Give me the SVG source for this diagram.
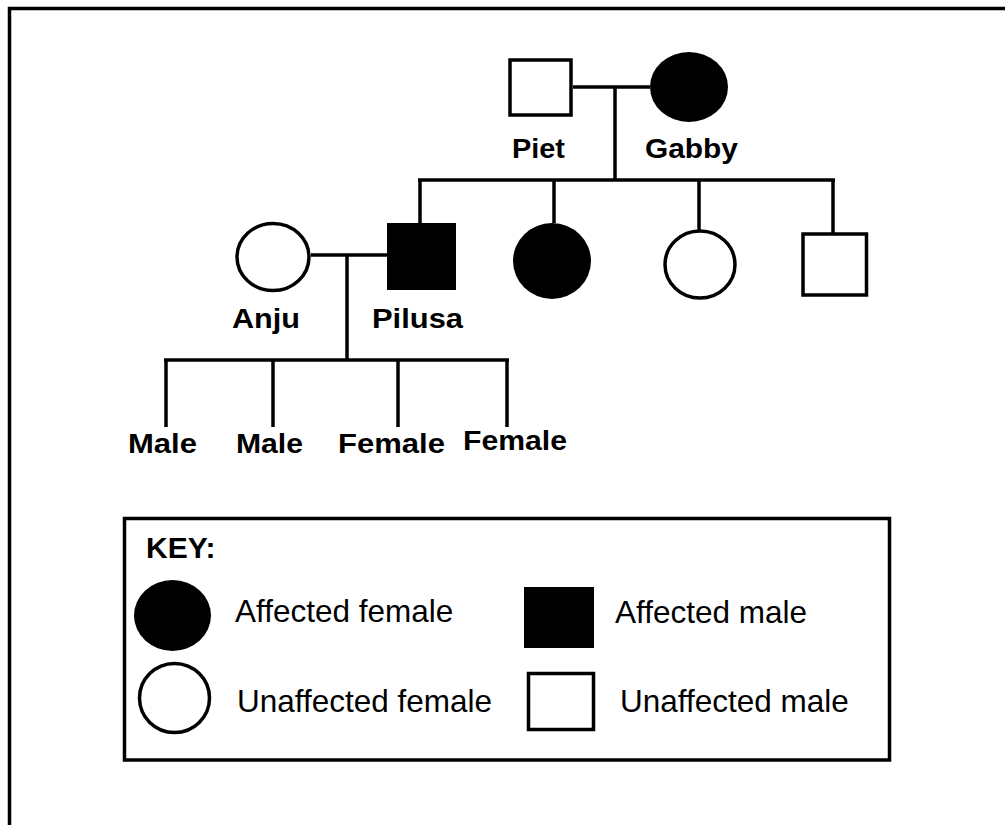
<svg xmlns="http://www.w3.org/2000/svg" width="1005" height="825" viewBox="0 0 1005 825">
<style>
.ln{stroke:#000;stroke-width:3.5;fill:none}
.open{fill:#fff;stroke:#000;stroke-width:3.5}
.fill{fill:#000;stroke:none}
.lbl{font-family:"Liberation Sans",Arial,sans-serif;font-weight:bold;font-size:27px;fill:#000}
.key{font-family:"Liberation Sans",Arial,sans-serif;font-size:31.5px;fill:#000}
.keyt{font-family:"Liberation Sans",Arial,sans-serif;font-weight:bold;font-size:30px;fill:#000}
</style>
<rect width="1005" height="825" fill="#fff"/>
<path class="ln" d="M9.5,825 V8.5 H1005"/>
<g id="connectors">
<path class="ln" d="M573,87 H650"/>
<path class="ln" d="M615,87 V180"/>
<path class="ln" d="M418,180 H835"/>
<path class="ln" d="M420,180 V223"/>
<path class="ln" d="M554,180 V223"/>
<path class="ln" d="M699,180 V230"/>
<path class="ln" d="M833,180 V234"/>
<path class="ln" d="M311,255 H387"/>
<path class="ln" d="M347,255 V360"/>
<path class="ln" d="M164,360 H509"/>
<path class="ln" d="M166,360 V427"/>
<path class="ln" d="M273,360 V427"/>
<path class="ln" d="M398,360 V427"/>
<path class="ln" d="M507,360 V427"/>
</g>
<g id="piet"><rect class="open" x="510" y="60" width="61" height="55"/><text class="lbl" x="512" y="158" textLength="53" lengthAdjust="spacingAndGlyphs">Piet</text></g>
<g id="gabby"><ellipse class="fill" cx="689" cy="87" rx="39" ry="35"/><text class="lbl" x="645" y="158" textLength="93" lengthAdjust="spacingAndGlyphs">Gabby</text></g>
<g id="pilusa"><rect class="fill" x="387" y="223" width="69" height="67"/><text class="lbl" x="372" y="328" textLength="91" lengthAdjust="spacingAndGlyphs">Pilusa</text></g>
<g id="anju"><ellipse class="open" cx="273" cy="257" rx="36" ry="33.5"/><text class="lbl" x="232" y="328" textLength="68" lengthAdjust="spacingAndGlyphs">Anju</text></g>
<g id="daughter1"><ellipse class="fill" cx="552" cy="261" rx="39" ry="38"/></g>
<g id="daughter2"><ellipse class="open" cx="700" cy="264.5" rx="35" ry="33.5"/></g>
<g id="son"><rect class="open" x="803" y="234" width="63.5" height="61"/></g>
<g id="child1"><text class="lbl" x="128" y="453" textLength="69" lengthAdjust="spacingAndGlyphs">Male</text></g>
<g id="child2"><text class="lbl" x="236" y="453" textLength="67" lengthAdjust="spacingAndGlyphs">Male</text></g>
<g id="child3"><text class="lbl" x="338" y="453" textLength="107" lengthAdjust="spacingAndGlyphs">Female</text></g>
<g id="child4"><text class="lbl" x="463" y="450" textLength="104" lengthAdjust="spacingAndGlyphs">Female</text></g>
<g id="key">
<rect class="ln" x="124.5" y="518.5" width="765" height="241.5"/>
<text class="keyt" x="146" y="558">KEY:</text>
<ellipse class="fill" cx="172.5" cy="615.5" rx="38.5" ry="35.5"/>
<text class="key" x="235" y="622">Affected female</text>
<ellipse class="open" cx="174.5" cy="698" rx="35" ry="34.5"/>
<text class="key" x="237" y="712">Unaffected female</text>
<rect class="fill" x="524" y="587" width="70" height="61"/>
<text class="key" x="615" y="623">Affected male</text>
<rect class="open" x="528.5" y="673.5" width="65" height="56"/>
<text class="key" x="620" y="712">Unaffected male</text>
</g>
</svg>
